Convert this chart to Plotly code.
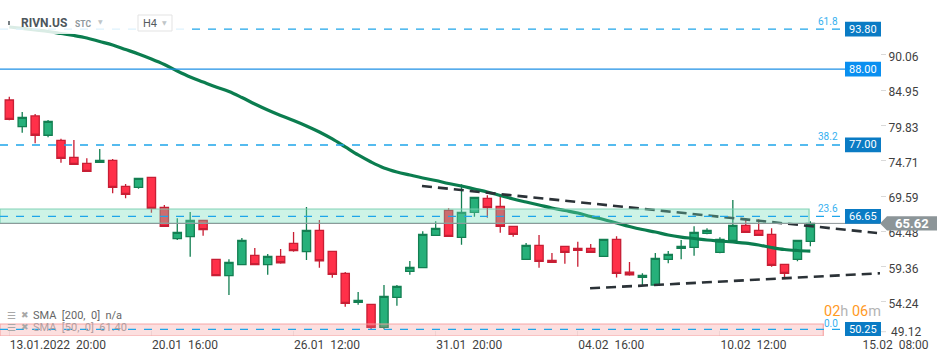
import plotly.graph_objects as go

# ---------------- data ----------------
bar_index = list(range(63))
open_ = [83.53, 79.65, 81.21, 78.41, 77.68, 75.21, 74.34, 74.49, 74.78, 71.00,
         70.86, 72.31, 67.96, 63.40, 63.69, 66.07, 60.41, 58.03, 59.63, 60.99,
         59.63, 60.84, 62.73, 61.51, 64.62, 61.57, 58.38, 54.17, 53.88, 50.54,
         54.89, 58.67, 59.19, 63.89, 67.52, 63.60, 67.23, 69.26, 68.10, 65.20,
         60.41, 62.44, 60.26, 62.29, 62.00, 62.00, 60.84, 63.31, 58.55, 57.79,
         56.68, 60.41, 62.00, 62.15, 64.18, 61.42, 63.17, 65.34, 64.62, 64.04,
         59.68, 60.41, 63.02]
high_ = [84.01, 81.79, 81.50, 80.63, 77.91, 77.72, 75.07, 76.42, 74.97, 71.34,
         72.16, 72.31, 68.29, 66.36, 67.27, 66.07, 60.41, 60.41, 63.50, 62.05,
         61.18, 61.90, 64.37, 68.00, 66.11, 61.57, 58.56, 55.66, 53.88, 56.68,
         56.68, 60.16, 64.47, 65.92, 67.81, 71.29, 69.41, 69.70, 69.84, 65.20,
         62.77, 63.92, 61.32, 62.29, 62.96, 62.63, 63.31, 63.75, 60.02, 58.38,
         61.32, 61.61, 63.21, 65.20, 64.91, 63.60, 69.01, 66.36, 66.21, 64.91,
         59.68, 63.17, 65.92]
low_ = [80.60, 78.78, 77.24, 78.12, 74.43, 74.20, 73.18, 74.49, 69.99, 69.26,
        70.66, 67.17, 65.20, 63.21, 60.79, 63.83, 58.03, 55.23, 59.63, 59.63,
        58.17, 59.77, 61.51, 60.31, 59.19, 57.74, 53.53, 53.82, 50.25, 50.25,
        53.67, 58.17, 59.19, 63.89, 63.75, 62.53, 66.59, 66.45, 64.27, 63.69,
        60.41, 59.19, 59.97, 59.77, 59.34, 61.42, 60.84, 57.77, 58.03, 56.58,
        56.68, 59.83, 60.41, 60.93, 64.04, 61.28, 62.88, 64.33, 63.89, 59.34,
        57.79, 60.12, 62.29]
close_ = [80.73, 81.02, 78.41, 80.44, 75.07, 74.20, 73.18, 74.78, 70.86, 69.84,
          72.16, 67.81, 65.20, 64.33, 66.07, 64.71, 58.03, 59.97, 63.17, 59.63,
          60.84, 59.91, 61.66, 64.62, 60.20, 58.23, 54.02, 54.46, 50.54, 55.04,
          56.49, 59.25, 64.04, 64.91, 63.75, 67.23, 69.41, 67.90, 65.20, 64.04,
          62.44, 60.12, 59.97, 61.42, 61.71, 61.42, 63.31, 58.38, 58.17, 58.08,
          60.55, 61.13, 62.29, 64.33, 64.62, 63.31, 65.34, 64.33, 63.89, 59.54,
          58.38, 63.17, 65.62]
sma50 = [94.12, 93.91, 93.69, 93.47, 93.18, 92.89, 92.53, 92.02, 91.51, 90.86,
         90.21, 89.48, 88.68, 87.74, 86.87, 86.14, 85.42, 84.76, 83.89, 82.95,
         82.08, 81.28, 80.55, 79.76, 78.88, 77.87, 76.71, 75.55, 74.53, 73.66,
         73.08, 72.64, 72.21, 71.84, 71.41, 71.05, 70.61, 70.18, 69.67, 69.16,
         68.72, 68.29, 67.85, 67.49, 67.13, 66.62, 66.19, 65.68, 65.17, 64.73,
         64.37, 63.94, 63.64, 63.43, 63.21, 63.06, 62.92, 62.77, 62.48, 62.12,
         61.83, 61.69, 61.61]

x_tick_index = [0, 11, 22, 33, 44, 55, 66]
x_tick_labels = ["13.01.2022\u00a0\u00a020:00", "20.01\u00a0\u00a016:00", "26.01\u00a0\u00a012:00",
                 "31.01\u00a0\u00a020:00", "04.02\u00a0\u00a016:00", "10.02\u00a0\u00a012:00",
                 "15.02\u00a0\u00a008:00"]
y_tick_values = [54.24, 59.36, 64.48, 69.59, 74.71, 79.83, 84.95, 90.06]

fib_levels = [93.80, 77.00, 66.65, 50.25]
fib_ratios = ["61.8", "38.2", "23.6", "0.0"]
resistance_level = 88.00
last_price = 65.62

trend_upper_x = [31.94, 67.16]
trend_upper_y = [71.05, 64.23]
trend_lower_x = [44.95, 67.39]
trend_lower_y = [56.20, 58.38]

zone_teal = (65.62, 67.71, 61.9)   # low, high, end bar
zone_pink = (49.28, 51.02, 63.0)

# ---------------- layout geometry ----------------
W, H = 950, 361
PLOT_W, PLOT_H = 880, 336
X_RANGE = [-0.72, 67.39]
Y_RANGE = [49.28, 98.04]


def px(xp):
    return xp / PLOT_W


def py(yp):
    return (PLOT_H - yp) / PLOT_H


FONT = "Roboto, Arial, sans-serif"
fig = go.Figure()

fig.add_trace(go.Candlestick(
    x=bar_index, open=open_, high=high_, low=low_, close=close_,
    increasing=dict(fillcolor="#26b07a", line=dict(color="#137f52", width=1.3)),
    decreasing=dict(fillcolor="#ff3049", line=dict(color="#c81e34", width=1.3)),
    whiskerwidth=0, hoverinfo="skip", showlegend=False,
))

fig.add_trace(go.Scatter(
    x=bar_index, y=sma50, mode="lines",
    line=dict(color="#0b7d4f", width=3.2, shape="spline"),
    hoverinfo="skip", showlegend=False,
))

for tx, ty in [(trend_upper_x, trend_upper_y), (trend_lower_x, trend_lower_y)]:
    fig.add_trace(go.Scatter(
        x=tx, y=ty, mode="lines", cliponaxis=False,
        line=dict(color="#2b3237", width=2.6, dash="10px,6px"),
        hoverinfo="skip", showlegend=False,
    ))

shapes = []
annotations = []

# zones (drawn above, translucent)
shapes.append(dict(type="rect", xref="x", yref="y", x0=X_RANGE[0], x1=zone_teal[2],
                   y0=zone_teal[0], y1=zone_teal[1], layer="above",
                   fillcolor="rgba(112,221,184,0.35)",
                   line=dict(color="rgba(120,205,175,0.9)", width=1.2)))
shapes.append(dict(type="rect", xref="x", yref="y", x0=X_RANGE[0], x1=zone_pink[2],
                   y0=zone_pink[0], y1=zone_pink[1], layer="above",
                   fillcolor="rgba(245,140,140,0.28)",
                   line=dict(color="rgba(245,160,160,0.9)", width=1.2)))

# last price line
shapes.append(dict(type="line", xref="paper", yref="y", x0=0, x1=1,
                   y0=last_price, y1=last_price, layer="above",
                   line=dict(color="#8c9497", width=1)))

# resistance line
shapes.append(dict(type="line", xref="paper", yref="y", x0=0, x1=px(845),
                   y0=resistance_level, y1=resistance_level, layer="above",
                   line=dict(color="#1e90e6", width=1.2)))

# fib levels
for lvl, ratio in zip(fib_levels, fib_ratios):
    shapes.append(dict(type="line", xref="paper", yref="y", x0=0, x1=px(845),
                       y0=lvl, y1=lvl, layer="above",
                       line=dict(color="#1ea5ea", width=1.3, dash="8px,8px")))
    annotations.append(dict(xref="paper", yref="y", x=px(840), y=lvl,
                            yshift=6 if ratio == "0.0" else 8,
                            text=ratio, showarrow=False, xanchor="right", yanchor="middle",
                            font=dict(family=FONT, size=10, color="#35b0ef")))

# price boxes
box_levels = [(fib_levels[0], "#0a7bc4"), (resistance_level, "#0a8ff0"),
              (fib_levels[1], "#0a7bc4"), (fib_levels[2], "#0a7bc4"), (fib_levels[3], "#0a7bc4")]
for lvl, col in box_levels:
    shapes.append(dict(type="rect", xref="paper", yref="y", x0=px(845), x1=px(881),
                       y0=lvl - 1.07, y1=lvl + 1.07, layer="above",
                       fillcolor=col, line=dict(width=0)))
    annotations.append(dict(xref="paper", yref="y", x=px(863), y=lvl,
                            text=f"{lvl:.2f}", showarrow=False, xanchor="center", yanchor="middle",
                            font=dict(family=FONT, size=11, color="white")))

# last price label with arrow
hh = 1.02
shapes.append(dict(type="path", xref="paper", yref="y", layer="above",
                   path=(f"M {px(880)},{last_price} L {px(887)},{last_price + hh} "
                         f"L {px(937)},{last_price + hh} L {px(937)},{last_price - hh} "
                         f"L {px(887)},{last_price - hh} Z"),
                   fillcolor="#8c9598", line=dict(width=0)))
annotations.append(dict(xref="paper", yref="y", x=px(912), y=last_price,
                        text=f"<b>{last_price:.2f}</b>", showarrow=False,
                        xanchor="center", yanchor="middle",
                        font=dict(family=FONT, size=13, color="white")))

# lowest tick label (clamped above axis)
shapes.append(dict(type="line", xref="paper", yref="paper", x0=px(881), x1=px(886),
                   y0=py(331.7), y1=py(331.7), line=dict(color="#d9d9d9", width=1)))
annotations.append(dict(xref="paper", yref="paper", x=px(889), y=py(331.7),
                        text="49.12", showarrow=False, xanchor="left", yanchor="middle",
                        font=dict(family=FONT, size=12, color="#3f3f3f")))

# header
shapes.append(dict(type="rect", xref="paper", yref="paper", x0=0, x1=px(185),
                   y0=py(34), y1=py(12), layer="above",
                   fillcolor="rgba(255,255,255,0.85)", line=dict(width=0)))
shapes.append(dict(type="line", xref="paper", yref="paper", x0=px(9), x1=px(9),
                   y0=py(25), y1=py(21), layer="above",
                   line=dict(color="#4d565c", width=1.5)))
shapes.append(dict(type="rect", xref="paper", yref="paper", x0=px(138), x1=px(172),
                   y0=py(31), y1=py(15), layer="above",
                   fillcolor="white", line=dict(color="#e3e3e3", width=1)))
annotations += [
    dict(xref="paper", yref="paper", x=px(19), y=py(23), text="<b>RIVN.US</b>",
         showarrow=False, xanchor="left", yanchor="middle",
         font=dict(family=FONT, size=12, color="#4d565c")),
    dict(xref="paper", yref="paper", x=px(73), y=py(24), text="<b>STC</b>",
         showarrow=False, xanchor="left", yanchor="middle",
         font=dict(family=FONT, size=8.5, color="#8f989d")),
    dict(xref="paper", yref="paper", x=px(96), y=py(22), text="▼",
         showarrow=False, xanchor="left", yanchor="middle",
         font=dict(family="DejaVu Sans", size=6, color="#c0c5c8")),
    dict(xref="paper", yref="paper", x=px(141), y=py(23.5), text="H4",
         showarrow=False, xanchor="left", yanchor="middle",
         font=dict(family=FONT, size=11, color="#555b60")),
    dict(xref="paper", yref="paper", x=px(160), y=py(23), text="▼",
         showarrow=False, xanchor="left", yanchor="middle",
         font=dict(family="DejaVu Sans", size=6, color="#c0c5c8")),
]

# indicator legend
for ypx, txt, col in [(315, "SMA\u00a0\u00a0[200,\u00a0\u00a00]\u00a0\u00a0n/a", "#666666"),
                      (327, "SMA\u00a0\u00a0[50,\u00a0\u00a00]\u00a0\u00a061.40", "#b09ea0")]:
    annotations.append(dict(xref="paper", yref="paper", x=px(31), y=py(ypx), text=txt,
                            showarrow=False, xanchor="left", yanchor="middle",
                            font=dict(family=FONT, size=11, color=col)))
    annotations.append(dict(xref="paper", yref="paper", x=px(5), y=py(ypx), text="☰",
                            showarrow=False, xanchor="left", yanchor="middle",
                            font=dict(family="DejaVu Sans", size=10, color="#a8a8a8")))
    annotations.append(dict(xref="paper", yref="paper", x=px(19), y=py(ypx), text="✖",
                            showarrow=False, xanchor="left", yanchor="middle",
                            font=dict(family="DejaVu Sans", size=9, color="#a8a8a8")))

# countdown
annotations.append(dict(xref="paper", yref="paper", x=px(822), y=py(311.5),
                        text=("<span style='color:#ff9a1f'>02</span><span style='color:#b4b4b4'>h </span>"
                              "<span style='color:#ff9a1f'>06</span><span style='color:#b4b4b4'>m</span>"),
                        showarrow=False, xanchor="left", yanchor="middle",
                        font=dict(family=FONT, size=14.5)))

fig.update_layout(
    width=W, height=H,
    margin=dict(l=0, r=W - PLOT_W, t=0, b=H - PLOT_H, pad=0),
    paper_bgcolor="white", plot_bgcolor="white",
    showlegend=False, hovermode=False, dragmode=False,
    boxgap=0.36, boxgroupgap=0,
    shapes=shapes, annotations=annotations,
    xaxis=dict(range=X_RANGE, rangeslider=dict(visible=False), showgrid=False,
               zeroline=False, showline=False, tickmode="array",
               tickvals=x_tick_index, ticktext=x_tick_labels,
               ticklabelposition="outside right",
               ticks="inside", ticklen=5, tickcolor="#eeeeee",
               tickfont=dict(family=FONT, size=12, color="#3f3f3f")),
    yaxis=dict(range=Y_RANGE, side="right", showgrid=False, zeroline=False,
               showline=False, tickmode="array", tickvals=y_tick_values,
               ticktext=[f"{v:.2f}" for v in y_tick_values],
               ticks="outside", ticklen=5, tickcolor="#d9d9d9",
               ticklabelshift=2,
               tickfont=dict(family=FONT, size=12, color="#3f3f3f")),
)

fig.write_html("out.html", config={"displayModeBar": False, "staticPlot": True},
               post_script="document.body.style.margin='0';document.body.style.overflow='hidden';")
